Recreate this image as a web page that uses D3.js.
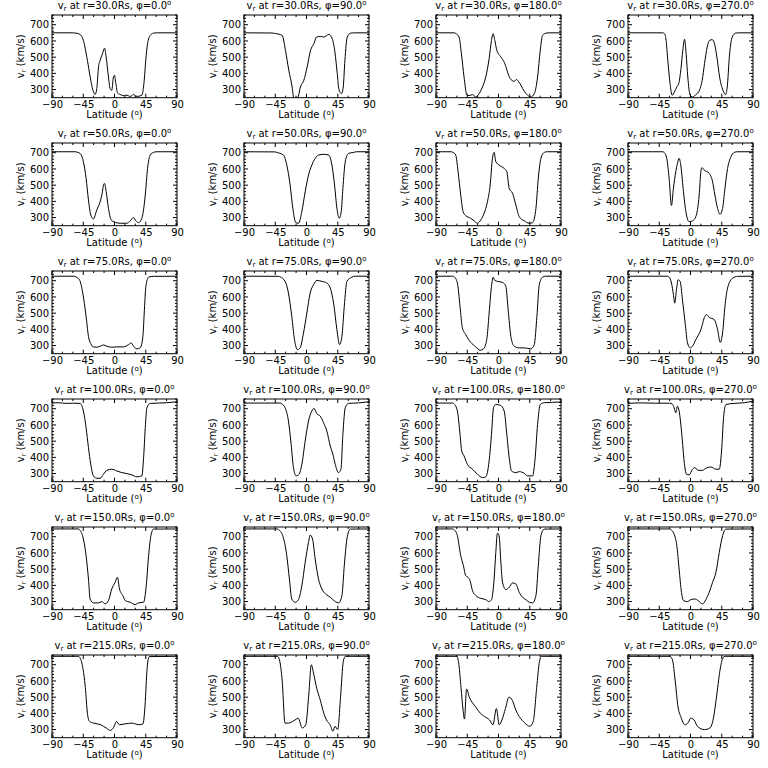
<!DOCTYPE html>
<html><head><meta charset="utf-8">
<script src="https://cdn.jsdelivr.net/npm/d3@7"></script>
<style>body{margin:0;background:#fff}svg{display:block}</style>
</head><body>
<svg id="c" width="768" height="768"></svg>
<script>
// ---------------- DATA ----------------
const radii = [30.0, 50.0, 75.0, 100.0, 150.0, 215.0];
const phis = [0.0, 90.0, 180.0, 270.0];
const xTicks = [-90, -45, 0, 45, 90];
const yTicks = [300, 400, 500, 600, 700];

// each series: [latitude (deg), v_r (km/s)]
const r30_phi0 = [[-90,650],[-60,650],[-55,648],[-49.6,640],[-44.8,603],[-39,480],[-35,378],[-30.3,286],[-28,270],[-25.5,306],[-23,440],[-20.7,480],[-17.3,521],[-14.4,555],[-12,500],[-8.7,378],[-6.3,306],[-3.9,296],[-1.5,378],[0,388],[2,337],[4.3,280],[8.2,270],[13,262],[18,266],[22,258],[25,262],[27.4,272],[30,260],[34,258],[37,262],[39.4,265],[42.8,357],[45,480],[47.6,583],[51.5,634],[56,648],[60,650],[90,650]];
const r30_phi90 = [[-90,650],[-50,649],[-44.8,646],[-40,642],[-35,634],[-30.3,542],[-25.5,419],[-20.7,316],[-18.5,250],[-15,235],[-12,255],[-8.7,316],[-3.9,357],[0.9,439],[5.8,542],[10.6,583],[14.4,624],[20.2,628],[25,624],[32.2,640],[37,614],[40.9,532],[44.3,398],[46.7,300],[50.5,275],[52.9,316],[55.3,480],[58.7,624],[63.5,648],[68,650],[90,650]];
const r30_phi180 = [[-90,650],[-64,650],[-61.6,646],[-56.8,624],[-53.4,521],[-49.6,378],[-45.7,269],[-42.4,263],[-37.5,269],[-32.7,255],[-27.9,275],[-23.1,316],[-18.3,378],[-13.5,491],[-10.1,603],[-7.7,645],[-5.3,603],[-2.4,542],[3.4,501],[9.1,460],[13,409],[16.8,368],[22.6,351],[26,362],[29.3,347],[32.2,327],[37,290],[41.9,265],[46.7,255],[51.5,275],[56.3,378],[60.1,542],[63.5,634],[68.3,648],[72,650],[90,650]];
const r30_phi270 = [[-90,650],[-40,650],[-37.5,645],[-35.1,603],[-32.7,480],[-29.4,337],[-26.5,265],[-23.1,286],[-19.7,316],[-16.9,337],[-13.5,439],[-11.1,542],[-8.5,610],[-6.3,521],[-3.9,378],[-0.5,265],[3.4,255],[8.2,271],[13,296],[16.8,357],[20.2,460],[24,562],[27.4,603],[31.3,608],[34.6,583],[38,501],[41.9,378],[46.7,296],[50.5,269],[52.9,316],[56.3,521],[60.1,624],[64.9,648],[68,650],[90,650]];

const r50_phi0 = [[-90,706],[-56,706],[-54.4,704],[-49.6,696],[-44.8,645],[-40.9,542],[-37.5,409],[-34.2,316],[-30.3,292],[-25.5,347],[-20.7,398],[-17.8,450],[-15.9,501],[-14.4,511],[-12,460],[-8.7,357],[-4.8,286],[0.9,271],[8.2,265],[17.8,265],[22.6,280],[27.4,300],[30.8,280],[34.6,269],[39.4,296],[44.3,439],[47.6,603],[51.5,686],[56.3,702],[60,706],[90,706]];
const r50_phi90 = [[-90,706],[-45,705],[-42.8,702],[-33.2,686],[-28.4,624],[-23.6,501],[-19.7,357],[-15.4,269],[-11.6,265],[-6.7,337],[-1.9,460],[2.9,562],[7.7,624],[12.5,665],[17.3,686],[24.5,690],[31.8,686],[36.6,624],[40.4,501],[43.8,357],[47.2,296],[50,337],[52.4,480],[55.8,645],[60.6,696],[67.8,702],[72,706],[90,706]];
const r50_phi180 = [[-90,706],[-68,706],[-66.4,704],[-61.6,686],[-58.2,583],[-54.4,439],[-51,337],[-47.2,312],[-40,296],[-35.1,280],[-30.3,265],[-25.5,286],[-20.7,327],[-15.9,398],[-12,501],[-8.7,665],[-6.3,702],[-3.9,645],[0.9,624],[8.2,603],[12,583],[15.4,480],[20.2,450],[25,378],[29.8,306],[37,280],[44.3,265],[49.1,269],[53.9,357],[57.3,542],[61.1,665],[65.9,702],[70,706],[90,706]];
const r50_phi270 = [[-90,706],[-40,706],[-38,702],[-34.2,665],[-30.8,542],[-27.4,375],[-24.6,480],[-21.2,583],[-18.8,634],[-16.4,665],[-14,624],[-10.6,480],[-6.7,337],[-1.9,275],[2.9,280],[7.7,306],[12.5,439],[14.9,583],[16.4,608],[19.7,593],[26.9,573],[31.8,521],[35.1,439],[39,357],[42.3,320],[46.2,357],[49.6,480],[53.4,603],[58.2,675],[63,702],[68,706],[90,706]];

const r75_phi0 = [[-90,728],[-58,728],[-56.8,726],[-50.5,706],[-45.7,624],[-40.9,480],[-37.5,357],[-34.2,312],[-30.3,292],[-25.5,290],[-20.7,296],[-15.9,304],[-11.1,296],[-3.9,290],[3.4,292],[13,292],[20.2,306],[24,316],[27.4,296],[32.2,280],[37,286],[40.9,357],[42.8,501],[45.2,665],[49.1,722],[56.3,727],[90,728]];
const r75_phi90 = [[-90,728],[-40,727],[-38,724],[-30.8,696],[-26,624],[-21.2,480],[-17.3,337],[-13,275],[-9.2,286],[-4.3,378],[0.5,501],[5.3,624],[10.1,675],[14.9,702],[22.1,696],[29.3,686],[34.2,655],[39,562],[43.8,398],[47.6,306],[51,357],[54.4,542],[58.2,696],[65.4,722],[70,728],[90,728]];
const r75_phi180 = [[-90,728],[-66,728],[-64,725],[-59.2,686],[-55.4,542],[-52,409],[-47.2,368],[-40,320],[-32.7,292],[-26.5,271],[-21.7,280],[-16.9,337],[-13.5,501],[-10.1,665],[-7.7,722],[-5.3,702],[-1.5,696],[5.8,690],[10.6,665],[13.9,521],[17.8,357],[22.6,296],[29.8,286],[37,286],[46.7,280],[51.5,306],[55.3,480],[58.7,675],[63.5,722],[68,728],[90,728]];
const r75_phi270 = [[-90,728],[-33,728],[-30.8,722],[-27.4,686],[-24.6,614],[-22.7,562],[-20.2,645],[-17.8,706],[-14.9,696],[-11.6,583],[-7.7,439],[-4.3,316],[-0.5,286],[2.9,296],[7.7,337],[14.9,398],[20.7,480],[23.1,491],[26.9,474],[34.2,460],[39,398],[42.8,320],[46.2,378],[49.6,542],[53.4,655],[60.6,716],[67.8,727],[90,728]];

const r100_phi0 = [[-90,735],[-80,737],[-70,733],[-60,734],[-49.6,733],[-44.8,686],[-40.9,583],[-37.5,460],[-34.2,357],[-30.3,286],[-25.5,271],[-20.7,271],[-15.9,296],[-11.1,320],[-3.9,327],[3.4,316],[10.6,306],[17.8,300],[25,292],[32.2,280],[39.4,286],[41.9,398],[44.3,583],[46.7,706],[51.5,733],[75.5,737],[90,743]];
const r100_phi90 = [[-90,735],[-38,735],[-35.6,730],[-30.8,706],[-26,624],[-22.1,480],[-18.8,337],[-14.9,286],[-10.6,296],[-6.7,357],[-1.9,501],[2.9,624],[7.7,686],[11,702],[14.9,669],[19.7,655],[24.5,614],[29.3,562],[34.2,470],[38,419],[41.4,357],[46.2,306],[49.6,327],[52.4,542],[55.8,706],[60.6,733],[75,736],[90,743]];
const r100_phi180 = [[-90,735],[-66,735],[-64,730],[-59.2,686],[-55.4,542],[-53,439],[-49.6,409],[-44.8,357],[-37.5,327],[-30.3,296],[-23.1,275],[-18.3,280],[-13.5,378],[-10.1,542],[-7.2,706],[-3.9,726],[2.4,722],[8.2,686],[11.5,562],[15.4,398],[18.8,316],[25,306],[29.8,312],[37,302],[41.9,286],[49.1,286],[52.4,378],[56.3,603],[60.1,726],[65.9,737],[90,741]];
const r100_phi270 = [[-90,733],[-70,736],[-50,734],[-30,734],[-26,728],[-23.6,706],[-21.2,675],[-18.8,716],[-16.4,686],[-12.5,542],[-9.2,378],[-5.8,296],[-1.9,292],[2.9,327],[6.3,337],[11,320],[17.3,320],[22.1,333],[29.3,341],[36.6,327],[41.4,327],[44.7,439],[47.6,645],[51,726],[63,733],[77.5,737],[90,747]];

const r150_phi0 = [[-90,748],[-52,748],[-49.6,740],[-44.8,686],[-40.9,583],[-37.5,439],[-35.1,316],[-30.3,292],[-23.1,292],[-18.3,300],[-13.5,286],[-8.7,306],[-3.9,378],[0.9,419],[4.3,450],[7.2,378],[12,337],[15.4,306],[22.6,296],[29.8,282],[34.6,292],[41.9,296],[45.7,398],[49.1,583],[52.4,706],[56.3,747],[90,748]];
const r150_phi90 = [[-90,748],[-42,748],[-40.4,744],[-34.2,706],[-28.4,583],[-24.6,439],[-21.2,316],[-16.4,296],[-11.6,312],[-6.7,398],[-1.9,542],[2.9,665],[5.3,710],[8.7,686],[12.5,562],[17.3,439],[22.1,378],[29.3,341],[34.2,327],[41.4,300],[46.2,292],[51,337],[54.4,521],[58.2,686],[63,747],[90,748]];
const r150_phi180 = [[-90,748],[-66,748],[-64,744],[-59.2,706],[-54.4,583],[-50.5,521],[-47.2,460],[-43.8,450],[-40.9,429],[-37.5,368],[-32.7,337],[-25.5,320],[-18.3,312],[-13.5,300],[-10.1,312],[-6.3,439],[-3.9,603],[-1.5,722],[0.9,706],[3.4,542],[5.8,419],[10.6,374],[15.4,388],[20.2,415],[25,409],[29.8,357],[34.6,327],[39.4,312],[44.3,296],[49.1,292],[53.9,337],[57.3,521],[61.1,706],[65.9,747],[90,748]];
const r150_phi270 = [[-90,748],[-30,748],[-28.4,744],[-23.6,716],[-19.7,645],[-16.4,501],[-13,357],[-10.1,306],[-4.3,300],[0.5,312],[6.3,316],[11,306],[17.3,286],[22.1,312],[26.9,357],[31.8,419],[36.6,480],[41.4,603],[46.2,706],[51,747],[90,748]];

const r215_phi0 = [[-90,752],[-52,752],[-50,745],[-46,690],[-42,560],[-39,400],[-36,350],[-30,340],[-20,330],[-12,310],[-6,295],[-1,315],[3,350],[7,330],[15,335],[25,340],[35,330],[41,335],[44,450],[47,680],[50,750],[90,752]];
const r215_phi90 = [[-90,752],[-42,752],[-39,730],[-35,600],[-31,340],[-26,340],[-18,355],[-12,370],[-6,310],[-1,330],[3,500],[7,700],[10,650],[15,550],[20,480],[25,400],[30,350],[34,330],[38,290],[41,320],[45,300],[49,500],[53,720],[56,752],[90,752]];
const r215_phi180 = [[-90,752],[-60,752],[-57,700],[-54,560],[-51,420],[-49,365],[-46,550],[-42,500],[-33,440],[-26,400],[-20,380],[-13,360],[-8,330],[-3,430],[1,330],[5,360],[10,430],[15,500],[20,480],[25,420],[30,380],[38,340],[45,320],[50,350],[55,560],[59,720],[62,752],[90,752]];
const r215_phi270 = [[-90,752],[-30,752],[-26,730],[-22,600],[-18,440],[-14,380],[-8,330],[-3,345],[0,370],[5,360],[10,320],[20,300],[28,310],[33,370],[38,520],[43,680],[47,745],[50,752],[90,752]];

const series = [
  [r30_phi0, r30_phi90, r30_phi180, r30_phi270],
  [r50_phi0, r50_phi90, r50_phi180, r50_phi270],
  [r75_phi0, r75_phi90, r75_phi180, r75_phi270],
  [r100_phi0, r100_phi90, r100_phi180, r100_phi270],
  [r150_phi0, r150_phi90, r150_phi180, r150_phi270],
  [r215_phi0, r215_phi90, r215_phi180, r215_phi270]
];

// ---------------- DRAW ----------------
const svg = d3.select('#c');
const font = "'DejaVu Sans', sans-serif";
const cellW = 192, cellH = 128;
const L = 52, R = 177, T = 15, B = 97.7;
const x = d3.scaleLinear().domain([-90, 90]).range([L, R]);
const y = d3.scaleLinear().domain([250, 760]).range([B, T]);
const xMinor = d3.range(-90, 91, 15);
const yMinor = d3.range(260, 761, 20);

const defs = svg.append('defs');
defs.append('clipPath').attr('id', 'clip').append('rect')
  .attr('x', L).attr('y', T).attr('width', R - L).attr('height', B - T);

radii.forEach((r, ri) => {
  phis.forEach((p, pi) => {
    const g = svg.append('g').attr('transform', `translate(${pi * cellW},${ri * cellH})`);
    g.append('rect').attr('x', L).attr('y', T).attr('width', R - L).attr('height', B - T)
      .attr('fill', 'none').attr('stroke', '#000').attr('stroke-width', 1);
    const tk = g.append('g').attr('stroke', '#000').attr('stroke-width', 1);
    xMinor.forEach(v => {
      const len = xTicks.includes(v) ? 4 : 2;
      tk.append('line').attr('x1', x(v)).attr('x2', x(v)).attr('y1', B).attr('y2', B - len);
      tk.append('line').attr('x1', x(v)).attr('x2', x(v)).attr('y1', T).attr('y2', T + len);
    });
    yMinor.forEach(v => {
      const len = yTicks.includes(v) ? 4 : 2;
      tk.append('line').attr('x1', L).attr('x2', L + len).attr('y1', y(v)).attr('y2', y(v));
      tk.append('line').attr('x1', R).attr('x2', R - len).attr('y1', y(v)).attr('y2', y(v));
    });
    const ax = g.append('g').attr('transform', `translate(0,${B})`)
      .call(d3.axisBottom(x).tickValues(xTicks).tickSize(0).tickPadding(3).tickFormat(d3.format('d')));
    ax.select('.domain').remove();
    ax.selectAll('text').attr('font-family', font).attr('font-size', 10).attr('fill', '#000')
      .text(d => (d < 0 ? '\u2212' + Math.abs(d) : d));
    const ay = g.append('g').attr('transform', `translate(${L},0)`)
      .call(d3.axisLeft(y).tickValues(yTicks).tickSize(0).tickPadding(3).tickFormat(d3.format('d')));
    ay.select('.domain').remove();
    ay.selectAll('text').attr('font-family', font).attr('font-size', 10).attr('fill', '#000');
    const t = g.append('text').attr('x', (L + R) / 2).attr('y', 9).attr('text-anchor', 'middle')
      .attr('font-family', font).attr('font-size', 10).attr('fill', '#000');
    t.append('tspan').text('v');
    t.append('tspan').attr('font-size', 7).attr('dy', 2).text('r');
    t.append('tspan').attr('dy', -2).text(` at r=${r.toFixed(1)}Rs, \u03c6=${p.toFixed(1)}`);
    t.append('tspan').attr('font-size', 7).attr('dy', -4).text('o');
    const xl = g.append('text').attr('x', (L + R) / 2).attr('y', 118).attr('text-anchor', 'middle')
      .attr('font-family', font).attr('font-size', 10).attr('fill', '#000');
    xl.append('tspan').text('Latitude (');
    xl.append('tspan').attr('font-size', 7).attr('dy', -3).text('o');
    xl.append('tspan').attr('dy', 3).text(')');
    const yl = g.append('text').attr('transform', `translate(24,${(T + B) / 2}) rotate(-90)`)
      .attr('text-anchor', 'middle').attr('font-family', font).attr('font-size', 10).attr('fill', '#000');
    yl.append('tspan').text('v');
    yl.append('tspan').attr('font-size', 7).attr('dy', 2).text('r');
    yl.append('tspan').attr('dy', -2).text(' (km/s)');
    const line = d3.line().x(d => x(d[0])).y(d => y(d[1])).curve(d3.curveMonotoneX);
    g.append('path').datum(series[ri][pi]).attr('d', line).attr('fill', 'none')
      .attr('stroke', '#000').attr('stroke-width', 1).attr('clip-path', 'url(#clip)');
  });
});
</script>
</body></html>
